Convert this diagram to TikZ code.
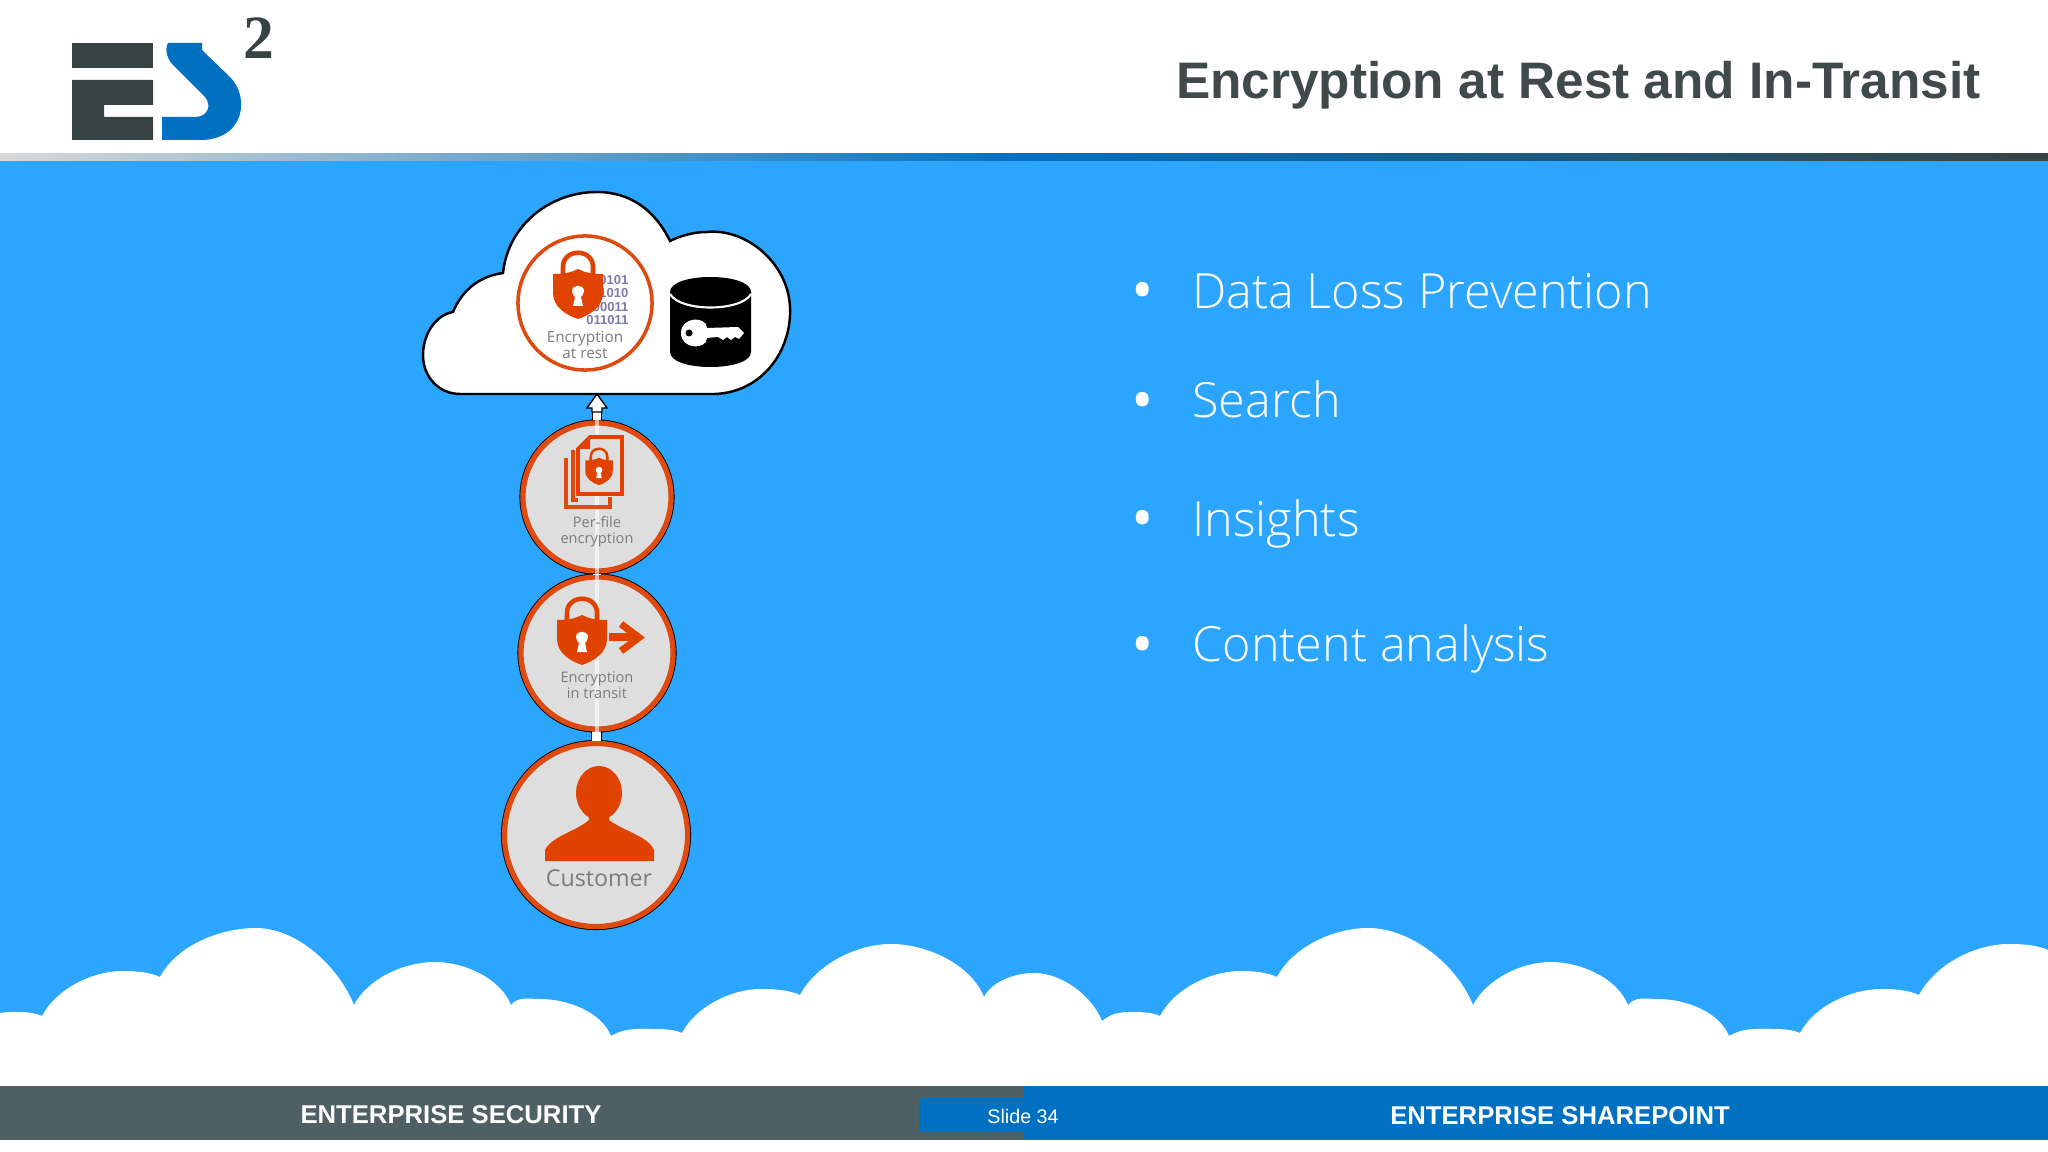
\documentclass[tikz,border=0pt]{standalone}
\usepackage{fontspec}
\usepackage{xcolor}
\usepackage{tikz}
\usetikzlibrary{arrows.meta,positioning,calc}
\setmainfont{Liberation Sans}
\newfontfamily\slidefont{Open Sans}
\newfontfamily\lightfont{Open Sans Light}
\newfontfamily\logofont{Liberation Serif}
\definecolor{skyblue}{HTML}{2CA5FF}
\definecolor{barblue}{HTML}{0070C0}
\definecolor{bargray}{HTML}{4F6064}
\definecolor{logodark}{HTML}{384444}
\definecolor{titlegray}{HTML}{404A4A}
\definecolor{ringorange}{HTML}{DE4A10}
\definecolor{iconorange}{HTML}{E04300}
\definecolor{discgray}{HTML}{DEDEDE}
\definecolor{capgray}{HTML}{7C7C7C}
\definecolor{bitsblue}{HTML}{7C7CA8}
\newcommand{\fsz}[1]{\fontsize{#1}{#1}\selectfont}
\newcommand{\padlock}[3]{%
  \begin{scope}[shift={(#1,#2)},scale=#3]
    \draw[iconorange,line width=#3*1.3pt] (-15,-20) -- (-15,-28)
      .. controls (-15,-47) and (15,-47) .. (15,-28) -- (15,-20);
    \fill[iconorange] (-25,-21) .. controls (-12,-21) and (-6,-23) .. (0,-26)
      .. controls (6,-23) and (12,-21) .. (25,-21) -- (25,-2)
      .. controls (25,12) and (12,20) .. (0,24)
      .. controls (-12,20) and (-25,12) .. (-25,-2) -- cycle;
    \fill[white] (-6,-4) .. controls (-6,-11) and (6,-11) .. (6,-4)
      .. controls (6,-1) and (4,1) .. (3,2) -- (5,11) -- (-5,11) -- (-3,2)
      .. controls (-4,1) and (-6,-1) .. (-6,-4) -- cycle;
  \end{scope}}
\tikzset{
  disc/.style={circle,draw=ringorange,fill=discgray,line width=1.5pt,inner sep=0pt,
               preaction={draw=black,line width=2pt}},
  captxt/.style={text=capgray,align=center},
  item/.style={text=white,anchor=base west,font=\lightfont\fsz{13.8}},
  dot/.style={text=white,font=\slidefont\fsz{17}},
  footer/.style={text=white,font=\bfseries\fsz{7.3}},
  link/.style={draw=black,line width=3.1pt,postaction={draw=white,line width=2.5pt}},
  streak/.style={draw=white,opacity=.6,line width=1.4pt},
  bumpup/.style={out=62,in=180,looseness=.85},
  bumpdn/.style={out=0,in=112,looseness=.85},
  bumpin/.style={out=0,in=155,looseness=.8},
}
\begin{document}
\begin{tikzpicture}[x=0.01cm, y=-0.01cm]
  \useasboundingbox (0,0) rectangle (2048,1152);
  % header, sky, footer
  \fill[white] (0,0) rectangle (2048,1152);
  \shade[left color=gray!30,right color=logodark,middle color=barblue] (0,154) rectangle (2048,161);
  \fill[skyblue] (0,161) rectangle (2048,1086);
  \fill[white] (0,1013)
    to[out=10,in=180] (18,1012) to[bumpin] (42,1016)
    to[bumpup] (123,971) to[bumpin] (160,977)
    to[bumpup] (256,928) to[bumpdn] (354,1005)
    to[bumpup] (435,962) to[bumpdn] (511,1005)
    to[out=50,in=180] (540,999) to[bumpdn] (611,1036)
    to[out=30,in=180] (653,1029) to[bumpin] (682,1033)
    to[bumpup] (761,989) to[bumpin] (800,995)
    to[bumpup] (891,944) to[bumpdn] (984,997)
    to[bumpup] (1034,973) to[bumpdn] (1102,1021)
    to[out=40,in=180] (1134,1012) to[bumpin] (1160,1016)
    to[bumpup] (1241,971) to[bumpin] (1277,977)
    to[bumpup] (1368,928) to[bumpdn] (1473,1005)
    to[bumpup] (1551,962) to[bumpdn] (1628,1005)
    to[out=50,in=180] (1658,999) to[bumpdn] (1729,1036)
    to[out=30,in=180] (1772,1029) to[bumpin] (1800,1033)
    to[bumpup] (1882,989) to[bumpin] (1919,995)
    to[bumpup] (2009,944) to[bumpin] (2048,950)
    -- (2048,1086) -- (0,1086) -- cycle;
  \fill[bargray] (0,1086) rectangle (1024,1140);
  \fill[barblue] (1024,1086) rectangle (2048,1140);
  \fill[barblue] (919,1098) rectangle (1024,1132);
  \node[footer] (sec) at (451,1115) {ENTERPRISE SECURITY};
  \node[footer] (shp) at (1560,1116) {ENTERPRISE SHAREPOINT};
  \node[text=white,font=\fsz{5.6}] (num) at (1023,1116) {Slide 34};
  % logo
  \fill[logodark] (72,43) rectangle (153,68);
  \fill[logodark] (72,80) -- (153,80) -- (153,105) -- (104,105) -- (104,117) -- (153,117) -- (153,140) -- (72,140) -- cycle;
  \fill[barblue] (168,43) -- (202,43) -- (202,50) -- (230,77)
    .. controls (250,97) and (245,140) .. (200,140) -- (162,140) -- (162,117) -- (195,117)
    .. controls (208,117) and (212,105) .. (205,97) -- (173,65)
    .. controls (166,58) and (165,48) .. (168,43) -- cycle;
  \node[text=logodark,font=\logofont\bfseries\fsz{17.5}] (two) at (259,38) {2};
  \node[text=titlegray,anchor=east,font=\bfseries\fsz{14.6}] (title) at (1993,85) {Encryption at Rest and In-Transit};
  % bullets
  \foreach \yy/\bl/\txt/\nm in {290/309/Data Loss Prevention/dlp, 400/418/Search/srch, 518/537/Insights/ins, 644/662/Content analysis/cnt}{
    \node[dot] (d\nm) at (1143,\yy+7) {•};
    \node[item] (t\nm) at (1180,\bl) {\txt};
  }
  % cloud
  \coordinate (cloudbase) at (597,394);
  \draw[fill=white,draw=black,line width=.7pt] (460,394) -- (715,394)
    .. controls (763,392) and (792,350) .. (790,307)
    .. controls (788,262) and (745,228) .. (707,232)
    .. controls (693,232) and (680,236) .. (670,241)
    .. controls (655,210) and (630,192) .. (597,192)
    .. controls (550,192) and (508,225) .. (503,273)
    .. controls (480,276) and (462,290) .. (453,312)
    .. controls (435,315) and (423,335) .. (423,355)
    .. controls (423,378) and (440,394) .. (460,394) -- cycle;
  % circles
  \node[circle,draw=ringorange,fill=white,line width=1pt,minimum size=1.34cm,inner sep=0pt] (rest) at (585,303) {};
  \node[disc,minimum size=1.48cm] (file) at (597,497) {};
  \node[disc,minimum size=1.52cm] (transit) at (597,653) {};
  \node[disc,minimum size=1.83cm] (customer) at (596,835) {};
  % connectors
  \draw[link] (customer) -- (transit);
  \draw[link] (transit) -- (file);
  \draw[link] (file) -- ($(cloudbase)+(0,12)$);
  \draw[fill=white,draw=black,line width=.4pt] (cloudbase) -- (607,408) -- (602,408) -- (602,412) -- (592,412) -- (592,408) -- (587,408) -- cycle;
  \draw[streak] (file.north) -- (transit.south);
  % encryption at rest
  \node[text=bitsblue,align=right,anchor=east,inner sep=0pt,font=\bfseries\fontsize{3.7}{3.8}\selectfont] (bits) at (629,300) {0101\\1010\\00011\\011011};
  \padlock{578}{295}{1}
  \node[captxt,font=\slidefont\fontsize{4.35}{4.8}\selectfont] (restcap) at (585,345) {Encryption\\at rest};
  % key drum
  \fill[black] (670,292) .. controls (670,272) and (751,272) .. (751,292) -- (751,352)
    .. controls (751,372) and (670,372) .. (670,352) -- cycle;
  \draw[white,line width=.6pt] (670,294) .. controls (680,312) and (741,312) .. (751,294);
  \fill[white] (681,333) .. controls (681,316) and (707,316) .. (707,328) -- (738,327) -- (744,333)
    -- (739,339) -- (735,337) -- (731,340) -- (727,337) -- (723,340) -- (718,337) -- (707,338)
    .. controls (707,350) and (681,350) .. (681,333) -- cycle;
  \fill[black] (689,333) circle[radius=3.5];
  % per-file
  \draw[ringorange,line width=1.1pt] (566,458) -- (566,507) -- (610,507) -- (610,497);
  \draw[ringorange,line width=1.1pt] (573,450) -- (573,500) -- (578,500);
  \draw[iconorange,line width=1.1pt,fill=discgray] (590,437) -- (622,437) -- (622,494) -- (578,494) -- (578,449) -- cycle;
  \fill[iconorange] (578,449) -- (590,437) -- (590,449) -- cycle;
  \padlock{599}{472}{.55}
  \node[captxt,font=\slidefont\fontsize{4.15}{4.7}\selectfont] (filecap) at (597,531.5) {Per-file\\encryption};
  % in transit
  \padlock{582}{641}{1}
  \draw[iconorange,line width=2pt] (609,637) -- (638,637);
  \draw[iconorange,line width=2pt] (621,624) -- (639,637.5) -- (621,651);
  \node[captxt,font=\slidefont\fontsize{4.15}{4.7}\selectfont] (transcap) at (597,685) {Encryption\\in transit};
  % customer
  \fill[iconorange] (599,793) ellipse[x radius=23,y radius=27];
  \fill[iconorange] (588,812) -- (589,820) .. controls (575,832) and (552,836) .. (545,850) -- (545,861) -- (654,861) -- (654,850)
    .. controls (648,836) and (625,832) .. (609,820) -- (610,812) -- cycle;
  \node[captxt,font=\slidefont\fsz{6.6}] (custcap) at (599,878) {Customer};
\end{tikzpicture}
\end{document}
